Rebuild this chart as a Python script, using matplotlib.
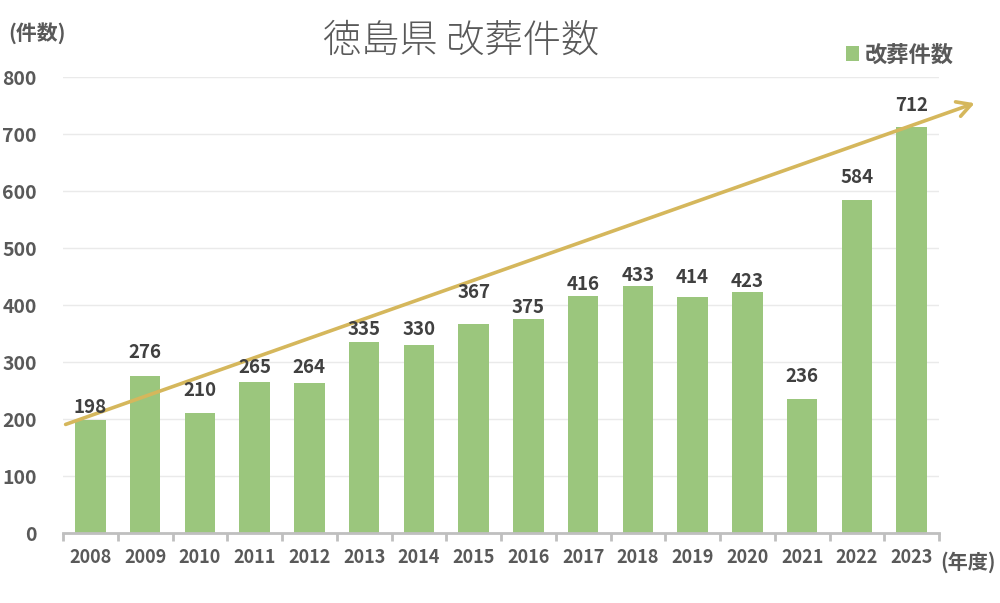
import matplotlib.pyplot as plt

plt.rcParams["font.family"] = ["Noto Sans CJK JP", "DejaVu Sans"]

years = ["2008", "2009", "2010", "2011", "2012", "2013", "2014", "2015",
         "2016", "2017", "2018", "2019", "2020", "2021", "2022", "2023"]
counts = [198, 276, 210, 265, 264, 335, 330, 367,
          375, 416, 433, 414, 423, 236, 584, 712]
y_ticks = [0, 100, 200, 300, 400, 500, 600, 700, 800]

# trend arrow (drawn by hand in the original), in data coordinates
arrow_start = (-0.5, 189)
arrow_end = (16.2, 756)

# labels were nudged by hand in the original: pixel gap bar top -> label centre
label_gaps = [13, 23, 23, 15, 15, 13, 16, 31, 12, 12, 11, 20, 11, 22, 23, 22]

text_grey = "#595959"
bar_green = "#9BC67D"
arrow_gold = "#D5B75C"

fig = plt.figure(figsize=(10, 6.03), dpi=100)
ax = fig.add_axes([0.063, 0.116, 0.876, 0.756])

x = range(len(years))
bars = ax.bar(x, counts, width=0.56, color=bar_green, zorder=2)

# value labels
for xi, v, gap in zip(x, counts, label_gaps):
    ax.annotate(str(v), (xi, v), xytext=(0, gap), textcoords="offset pixels",
                ha="center", va="center", fontsize=13.5, fontweight="bold",
                color="#404040", zorder=4)

ax.set_xlim(-0.5, len(years) - 0.5)
ax.set_ylim(0, 800)
ax.set_yticks(y_ticks)
ax.set_xticks(list(x))
ax.set_xticklabels(years)
ax.set_xticks([i - 0.5 for i in range(len(years) + 1)], minor=True)

ax.grid(axis="y", color="#EAEAEA", linewidth=1, zorder=0)
for s in ["left", "right", "top"]:
    ax.spines[s].set_visible(False)
ax.spines["bottom"].set_color("#BFBFBF")
ax.spines["bottom"].set_linewidth(2)

ax.tick_params(axis="y", length=0, pad=19, labelsize=14, labelcolor=text_grey)
ax.tick_params(axis="x", which="major", length=0, pad=11, labelsize=13,
               labelcolor=text_grey)
ax.tick_params(axis="x", which="minor", length=6, width=2, color="#BFBFBF")
for lbl in ax.get_xticklabels() + ax.get_yticklabels():
    lbl.set_fontweight("bold")

# trend arrow
ax.annotate("", xy=arrow_end, xytext=arrow_start,
            arrowprops=dict(arrowstyle="->,head_length=1.0,head_width=0.55",
                            color=arrow_gold, lw=2.6),
            annotation_clip=False, zorder=3)

fig.text(0.461, 0.932, "徳島県 改葬件数", ha="center", va="center",
         fontsize=27.5, fontweight="light", color=text_grey)
fig.text(0.008, 0.945, "(件数)", ha="left", va="center", fontsize=15,
         fontweight="bold", color=text_grey)
fig.text(0.94, 0.068, "(年度)", ha="left", va="center", fontsize=14.5,
         fontweight="bold", color=text_grey)

# legend
leg = fig.legend([bars], ["改葬件数"], loc="center left",
                 bbox_to_anchor=(0.846, 0.909), frameon=False,
                 handlelength=0.6, handleheight=0.6, handletextpad=0.25,
                 borderaxespad=0, borderpad=0,
                 prop={"size": 16, "weight": "bold"})
for t in leg.get_texts():
    t.set_color(text_grey)

fig.savefig("out.png", dpi=100, facecolor="white")
